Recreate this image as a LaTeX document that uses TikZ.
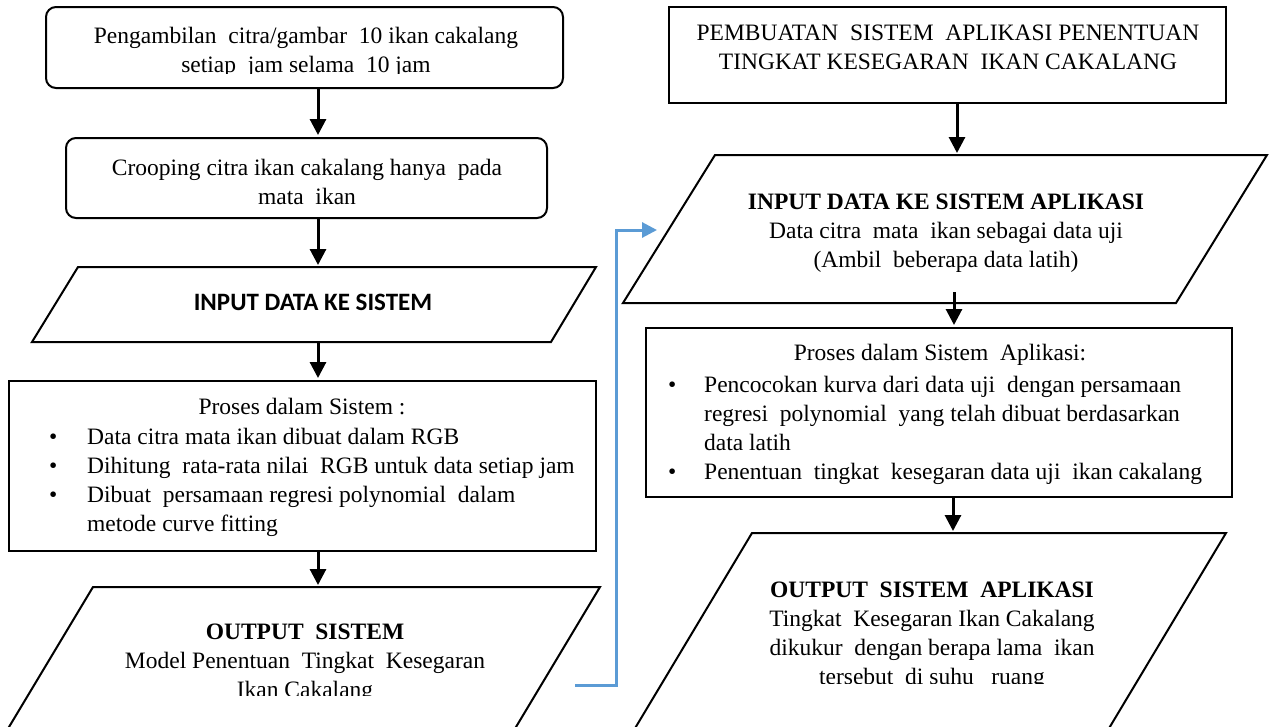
\documentclass[tikz,border=0pt]{standalone}
\usepackage{fontspec}
\setmainfont{Liberation Serif}
\newfontfamily\calibrifont{Carlito}
\usetikzlibrary{arrows.meta}
\definecolor{linkblue}{RGB}{91,155,213}
\begin{document}
\begin{tikzpicture}[x=1pt,y=-1pt,
  boxline/.style={draw=black, line width=2pt},
  rbox/.style={boxline, rounded corners=10pt, inner sep=0pt},
  sbox/.style={boxline, inner sep=0pt},
  flow/.style={line width=3pt, shorten >=2pt, -{Triangle[length=16pt,width=16pt]}},
  bluelink/.style={draw=linkblue, line width=3pt, -{Triangle[length=15pt,width=15pt]}},
  txt/.style={anchor=base, inner sep=0pt, font=\fontsize{23.5}{29}\selectfont},
  listtxt/.style={anchor=base west, inner sep=0pt, font=\fontsize{23.5}{29}\selectfont},
  sanstxt/.style={anchor=base, inner sep=0pt, font=\calibrifont\bfseries\fontsize{25}{29}\selectfont}
]
\useasboundingbox (0,0) rectangle (1275,726);
\clip (0,0) rectangle (1275,726);

% ---------------- left column ----------------
\node[rbox, minimum width=517pt, minimum height=81pt] (b1) at (304.5,47.5) {};
\begin{scope}
  \clip (0,0) rectangle (1275,73);
  \node[txt] (t1) at (306,43) {\begin{tabular}[t]{@{}c@{}}Pengambilan\ \ citra/gambar\ \ 10 ikan cakalang\\ setiap\ \ jam selama\ \ 10 jam\end{tabular}};
\end{scope}

\node[rbox, minimum width=481pt, minimum height=80pt] (b2) at (306.5,178) {};
\node[txt] (t2) at (307,175) {\begin{tabular}[t]{@{}c@{}}Crooping citra ikan cakalang hanya\ \ pada\\ mata\ \ ikan\end{tabular}};

\draw[boxline] (78,267) -- (596,267) -- (551,342) -- (32,342) -- cycle;
\coordinate (litop) at (318,267);
\coordinate (libot) at (318,342);
\node[sanstxt] (t3) at (313,310) {INPUT DATA KE SISTEM};

\node[sbox, minimum width=587pt, minimum height=170pt] (p1) at (302.5,466) {};
\node[txt] (t4) at (302,414) {Proses dalam Sistem :};
\node[listtxt] (l1) at (49,444) {\begin{tabular}[t]{@{}p{38pt}@{}l@{}}
\textbullet & Data citra mata ikan dibuat dalam RGB\\
\textbullet & Dihitung\ \ rata-rata nilai\ \ RGB untuk data setiap jam\\
\textbullet & Dibuat\ \ persamaan regresi polynomial\ \ dalam\\
 & metode curve fitting
\end{tabular}};

\draw[boxline] (93,587) -- (600,587) -- (492,767) -- (-15,767) -- cycle;
\coordinate (lotop) at (318,587);
\begin{scope}
  \clip (0,0) rectangle (1275,695);
  \node[txt] (t5) at (305,639) {\begin{tabular}[t]{@{}c@{}}\textbf{OUTPUT\ \ SISTEM}\\ Model Penentuan\ \ Tingkat\ \ Kesegaran\\ Ikan Cakalang\end{tabular}};
\end{scope}

\coordinate (ax) at (318,0);
\draw[flow] (b1.south -| ax) -- (b2.north -| ax);
\draw[flow] (b2.south -| ax) -- (litop);
\draw[flow] (libot) -- (p1.north -| ax);
\draw[flow] (p1.south -| ax) -- (lotop);

% ---------------- link ----------------
\coordinate (bs) at (575,685);
\coordinate (bm) at (616,230);
\coordinate (be) at (657,230);
\draw[bluelink] (bs) -| (bm) -- (be);

% ---------------- right column ----------------
\node[sbox, minimum width=557pt, minimum height=96pt] (b3) at (947.5,55) {};
\node[txt] (t6) at (948,40) {\begin{tabular}[t]{@{}c@{}}PEMBUATAN\ \ SISTEM\ \ APLIKASI PENENTUAN\\ TINGKAT KESEGARAN\ \ IKAN CAKALANG\end{tabular}};

\draw[boxline] (715,155) -- (1267,155) -- (1176,303) -- (623,303) -- cycle;
\coordinate (ritop) at (957,155);
\coordinate (riarr) at (954,292);
\node[txt] (t7) at (946,209) {\begin{tabular}[t]{@{}c@{}}\textbf{INPUT DATA KE SISTEM APLIKASI}\\ Data citra\ \ mata\ \ ikan sebagai data uji\\ (Ambil\ \ beberapa data latih)\end{tabular}};

\node[sbox, minimum width=586pt, minimum height=169pt] (p2) at (939,412.5) {};
\node[txt] (t8) at (940,360) {Proses dalam Sistem\ \ Aplikasi:};
\node[listtxt] (l2) at (668,392) {\begin{tabular}[t]{@{}p{36pt}@{}l@{}}
\textbullet & Pencocokan kurva dari data uji\ \ dengan persamaan\\
 & regresi\ \ polynomial\ \ yang telah dibuat berdasarkan\\
 & data latih\\
\textbullet & Penentuan\ \ tingkat\ \ kesegaran data uji\ \ ikan cakalang
\end{tabular}};

\draw[boxline] (752,533) -- (1226,533) -- (1090,760) -- (616,760) -- cycle;
\coordinate (rotop) at (953,533);
\begin{scope}
  \clip (0,0) rectangle (1275,683);
  \node[txt] (t9) at (932,597) {\begin{tabular}[t]{@{}c@{}}\textbf{OUTPUT\ \ SISTEM\ \ APLIKASI}\\ Tingkat\ \ Kesegaran Ikan Cakalang\\ dikukur\ \ dengan berapa lama\ \ ikan\\ tersebut\ \ di suhu\ \ \ ruang\end{tabular}};
\end{scope}

\coordinate (rx1) at (957,0);
\coordinate (rx2) at (954,0);
\coordinate (rx3) at (953,0);
\draw[flow] (b3.south -| rx1) -- (ritop);
\draw[flow] (riarr) -- (p2.north -| rx2);
\draw[flow] (p2.south -| rx3) -- (rotop);
\end{tikzpicture}
\end{document}
